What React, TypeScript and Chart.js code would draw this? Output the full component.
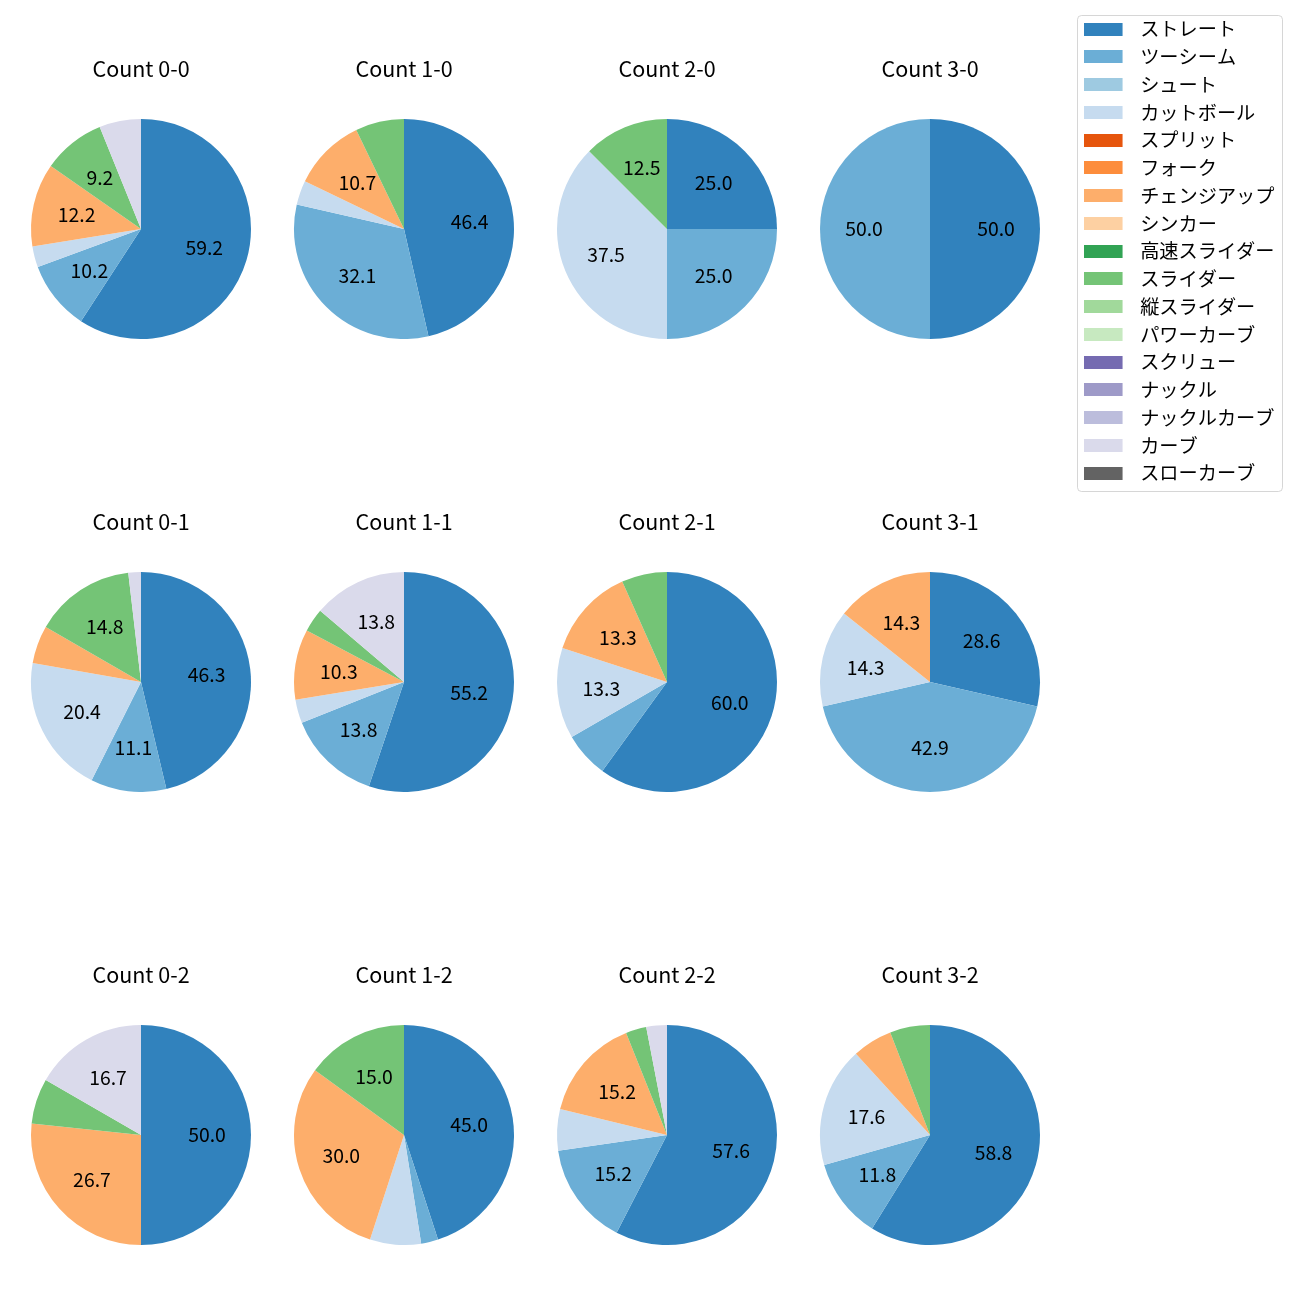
import React, { useEffect, useRef } from 'react';
import { Chart, registerables } from 'chart.js';

Chart.register(...registerables);

const FONT = '"Noto Sans CJK JP", "Noto Sans", sans-serif';

// ---- data ----
const pitchTypes = [
  'ストレート', 'ツーシーム', 'シュート', 'カットボール', 'スプリット', 'フォーク',
  'チェンジアップ', 'シンカー', '高速スライダー', 'スライダー', '縦スライダー',
  'パワーカーブ', 'スクリュー', 'ナックル', 'ナックルカーブ', 'カーブ', 'スローカーブ',
];

const pitchColors = [
  '#3182bd', '#6baed6', '#9ecae1', '#c6dbef', '#e6550d', '#fd8d3c', '#fdae6b', '#fdd0a2',
  '#31a354', '#74c476', '#a1d99b', '#c7e9c0', '#756bb1', '#9e9ac8', '#bcbddc', '#dadaeb', '#636363',
];

const countTitles = [
  'Count 0-0', 'Count 1-0', 'Count 2-0', 'Count 3-0',
  'Count 0-1', 'Count 1-1', 'Count 2-1', 'Count 3-1',
  'Count 0-2', 'Count 1-2', 'Count 2-2', 'Count 3-2',
];

// pitch counts per ball-strike count, in pitchTypes order
const count00 = [58, 10, 0, 3, 0, 0, 12, 0, 0, 9, 0, 0, 0, 0, 0, 6, 0];
const count10 = [13, 9, 0, 1, 0, 0, 3, 0, 0, 2, 0, 0, 0, 0, 0, 0, 0];
const count20 = [2, 2, 0, 3, 0, 0, 0, 0, 0, 1, 0, 0, 0, 0, 0, 0, 0];
const count30 = [1, 1, 0, 0, 0, 0, 0, 0, 0, 0, 0, 0, 0, 0, 0, 0, 0];
const count01 = [25, 6, 0, 11, 0, 0, 3, 0, 0, 8, 0, 0, 0, 0, 0, 1, 0];
const count11 = [16, 4, 0, 1, 0, 0, 3, 0, 0, 1, 0, 0, 0, 0, 0, 4, 0];
const count21 = [9, 1, 0, 2, 0, 0, 2, 0, 0, 1, 0, 0, 0, 0, 0, 0, 0];
const count31 = [2, 3, 0, 1, 0, 0, 1, 0, 0, 0, 0, 0, 0, 0, 0, 0, 0];
const count02 = [15, 0, 0, 0, 0, 0, 8, 0, 0, 2, 0, 0, 0, 0, 0, 5, 0];
const count12 = [18, 1, 0, 3, 0, 0, 12, 0, 0, 6, 0, 0, 0, 0, 0, 0, 0];
const count22 = [19, 5, 0, 2, 0, 0, 5, 0, 0, 1, 0, 0, 0, 0, 0, 1, 0];
const count32 = [10, 2, 0, 3, 0, 0, 1, 0, 0, 1, 0, 0, 0, 0, 0, 0, 0];

const countSeries = [
  count00, count10, count20, count30,
  count01, count11, count21, count31,
  count02, count12, count22, count32,
];

const LABEL_MIN_PCT = 8;

// ---- layout ----
const colCenters = [141, 404, 667, 930];
const rowCenters = [229, 682, 1135];
const PIE_W = 240;
const PIE_H = 282;
const TITLE_LINE = 24;
const TITLE_GAP = 38;
const PIE_R = 110;

const pctLabelPlugin = {
  id: 'pctLabels',
  afterDatasetsDraw(chart: any) {
    const ctx = chart.ctx;
    const values = chart.data.datasets[0].data as number[];
    const total = values.reduce((a, b) => a + b, 0);
    const meta = chart.getDatasetMeta(0);
    ctx.save();
    ctx.font = `19.4px ${FONT}`;
    ctx.fillStyle = '#000';
    ctx.textAlign = 'center';
    ctx.textBaseline = 'middle';
    meta.data.forEach((arc: any, i: number) => {
      const pct = (values[i] / total) * 100;
      if (!(pct >= LABEL_MIN_PCT)) return;
      const { x, y, startAngle, endAngle, outerRadius } = arc.getProps(
        ['x', 'y', 'startAngle', 'endAngle', 'outerRadius'], true);
      const mid = (startAngle + endAngle) / 2;
      const r = outerRadius * 0.6;
      ctx.fillText(pct.toFixed(1), x + Math.cos(mid) * r, y + Math.sin(mid) * r);
    });
    ctx.restore();
  },
};

function PieChart({ title, counts, cx, cy }: { title: string; counts: number[]; cx: number; cy: number }) {
  const ref = useRef<HTMLCanvasElement>(null);
  useEffect(() => {
    const chart = new Chart(ref.current!, {
      type: 'pie',
      data: {
        labels: pitchTypes,
        datasets: [{ data: counts, backgroundColor: pitchColors, borderWidth: 0, hoverOffset: 0 }],
      },
      options: {
        responsive: false,
        animation: false,
        layout: { padding: 0 },
        plugins: {
          legend: { display: false },
          tooltip: { enabled: false },
          title: {
            display: true,
            text: title,
            color: '#000',
            font: { family: FONT, size: 21.5, weight: 'normal', lineHeight: `${TITLE_LINE}px` },
            padding: { top: 0, bottom: TITLE_GAP },
          },
        },
      } as any,
      plugins: [pctLabelPlugin],
    });
    return () => chart.destroy();
  }, [title, counts]);
  const top = cy - PIE_R - TITLE_GAP - TITLE_LINE;
  return (
    <canvas
      ref={ref}
      width={PIE_W}
      height={PIE_H}
      style={{ position: 'absolute', left: cx - PIE_W / 2, top, width: PIE_W, height: PIE_H }}
    />
  );
}

const legendFramePlugin = {
  id: 'legendFrame',
  beforeDraw(chart: any) {
    const lg = chart.legend;
    if (!lg) return;
    const ctx = chart.ctx;
    const x = lg.left + 2.5;
    const y = lg.top + 4.5;
    const w = 205;
    const h = 476;
    const r = 4;
    ctx.save();
    ctx.beginPath();
    ctx.moveTo(x + r, y);
    ctx.lineTo(x + w - r, y);
    ctx.arcTo(x + w, y, x + w, y + r, r);
    ctx.lineTo(x + w, y + h - r);
    ctx.arcTo(x + w, y + h, x + w - r, y + h, r);
    ctx.lineTo(x + r, y + h);
    ctx.arcTo(x, y + h, x, y + h - r, r);
    ctx.lineTo(x, y + r);
    ctx.arcTo(x, y, x + r, y, r);
    ctx.closePath();
    ctx.fillStyle = 'rgba(255,255,255,0.8)';
    ctx.fill();
    ctx.lineWidth = 1;
    ctx.strokeStyle = 'rgba(204,204,204,0.8)';
    ctx.stroke();
    ctx.restore();
  },
};

function LegendChart() {
  const ref = useRef<HTMLCanvasElement>(null);
  useEffect(() => {
    const swatches = pitchColors.map((c) => {
      const cv = document.createElement('canvas');
      cv.width = 47;
      cv.height = 13;
      const g = cv.getContext('2d')!;
      g.fillStyle = c;
      g.fillRect(0, 0, 39, 13);
      return cv;
    });
    const chart = new Chart(ref.current!, {
      type: 'pie',
      data: {
        labels: pitchTypes,
        datasets: [{ data: pitchTypes.map(() => 0), backgroundColor: pitchColors }],
      },
      options: {
        responsive: false,
        animation: false,
        layout: { padding: 0 },
        plugins: {
          tooltip: { enabled: false },
          title: { display: false },
          legend: {
            display: true,
            position: 'left',
            align: 'start',
            maxWidth: 400,
            labels: {
              usePointStyle: true,
              pointStyleWidth: 47,
              boxWidth: 47,
              boxHeight: 13,
              padding: 8.55,
              color: '#000',
              font: { family: FONT, size: 19.2 },
              generateLabels: () =>
                pitchTypes.map((t, i) => ({
                  text: t,
                  fillStyle: pitchColors[i],
                  strokeStyle: pitchColors[i],
                  lineWidth: 0,
                  pointStyle: swatches[i],
                  hidden: false,
                  index: i,
                  datasetIndex: 0,
                  fontColor: '#000',
                })),
            },
          },
        },
      } as any,
      plugins: [legendFramePlugin],
    });
    return () => chart.destroy();
  }, []);
  return (
    <canvas
      ref={ref}
      width={215}
      height={500}
      style={{ position: 'absolute', left: 1075, top: 11, width: 215, height: 500 }}
    />
  );
}

export default function App() {
  return (
    <div style={{ position: 'absolute', left: 0, top: 0, width: 1300, height: 1300, background: '#fff' }}>
      {countTitles.map((t, i) => (
        <PieChart
          key={t}
          title={t}
          counts={countSeries[i]}
          cx={colCenters[i % 4]}
          cy={rowCenters[Math.floor(i / 4)]}
        />
      ))}
      <LegendChart />
    </div>
  );
}
